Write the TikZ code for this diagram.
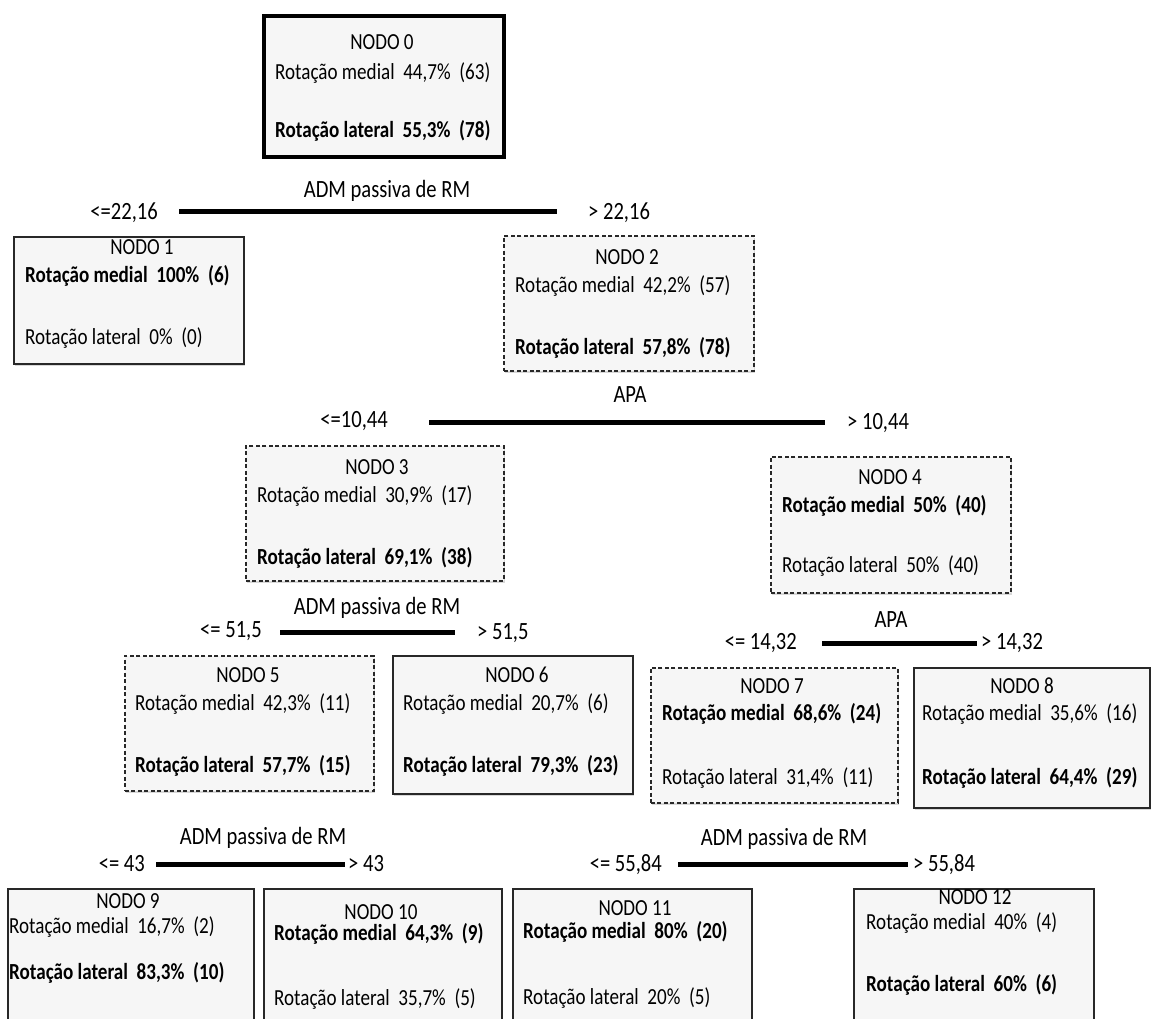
\documentclass[tikz,border=0pt]{standalone}
\usepackage{fontspec}
\setmainfont{Carlito}[FakeStretch=0.83]
\usetikzlibrary{shadows}
\definecolor{boxfill}{RGB}{246,246,246}
\definecolor{boxline}{RGB}{40,40,40}
\tikzset{
  box/.style={draw=boxline, line width=1.5pt, fill=boxfill, inner sep=0pt,
    anchor=north west, drop shadow={shadow xshift=1.5pt, shadow yshift=-2pt, opacity=0.3}},
  dbox/.style={box, dash pattern=on 4pt off 2.5pt},
  rootbox/.style={box, draw=black, line width=4pt},
  ttl/.style={anchor=center, inner sep=0pt, text height=0.7em, text depth=0.2em},
  txt/.style={anchor=west, inner sep=0pt, text height=0.7em, text depth=0.2em},
  lbl/.style={inner sep=0pt, font=\fontsize{24.8}{29}\selectfont, text height=0.7em, text depth=0.2em},
  lthr/.style={lbl, anchor=east},
  rthr/.style={lbl, anchor=west},
  var/.style={lbl, anchor=center},
  bar/.style={line width=5pt, black}
}
\begin{document}
\begin{tikzpicture}[x=1pt, y=-1pt, font=\fontsize{23}{27}\selectfont]
\useasboundingbox (0,0) rectangle (1156,1019);
\fill[white] (0,0) rectangle (1156,1019);
\clip (0,0) rectangle (1156,1019);

% ---------- NODO 0
\node[rootbox, minimum width=240pt, minimum height=141pt] (n0) at (262,14) {};
\node[ttl] (n0t) at (382,47) {NODO 0};
\node[txt] (n0a) at (275,77) {Rotação medial\ \ 44,7\%\ \ (63)};
\node[txt] (n0b) at (275,135) {\textbf{Rotação lateral\ \ 55,3\%\ \ (78)}};

% ---------- split 1
\node[var] (v1) at (387,195) {ADM passiva de RM};
\coordinate (b1l) at (179,212);
\coordinate (b1r) at (557,212);
\draw[bar] (b1l) -- (b1r);
\node[lthr] (t1l) at (158,217) {<=22,16};
\node[rthr] (t1r) at (588,217) {> 22,16};

% ---------- NODO 1
\node[box, minimum width=230pt, minimum height=127pt] (n1) at (13,236) {};
\node[ttl] (n1t) at (142,252) {NODO 1};
\node[txt] (n1a) at (25,280) {\textbf{Rotação medial\ \ 100\%\ \ (6)}};
\node[txt] (n1b) at (25,342) {Rotação lateral\ \ 0\%\ \ (0)};

% ---------- NODO 2
\node[dbox, minimum width=250pt, minimum height=135pt] (n2) at (503,235) {};
\node[ttl] (n2t) at (627,262) {NODO 2};
\node[txt] (n2a) at (515,290) {Rotação medial\ \ 42,2\%\ \ (57)};
\node[txt] (n2b) at (515,352) {\textbf{Rotação lateral\ \ 57,8\%\ \ (78)}};

% ---------- split 2
\node[var] (v2) at (630,400) {APA};
\coordinate (b2l) at (429,422);
\coordinate (b2r) at (825,422);
\draw[bar] (b2l) -- (b2r);
\node[lthr] (t2l) at (388,425) {<=10,44};
\node[rthr] (t2r) at (847,427) {> 10,44};

% ---------- NODO 3
\node[dbox, minimum width=258pt, minimum height=135pt] (n3) at (245,445) {};
\node[ttl] (n3t) at (377,472) {NODO 3};
\node[txt] (n3a) at (257,500) {Rotação medial\ \ 30,9\%\ \ (17)};
\node[txt] (n3b) at (257,562) {\textbf{Rotação lateral\ \ 69,1\%\ \ (38)}};

% ---------- NODO 4
\node[dbox, minimum width=240pt, minimum height=136pt] (n4) at (770,456) {};
\node[ttl] (n4t) at (890,482) {NODO 4};
\node[txt] (n4a) at (782,510) {\textbf{Rotação medial\ \ 50\%\ \ (40)}};
\node[txt] (n4b) at (782,570) {Rotação lateral\ \ 50\%\ \ (40)};

% ---------- split 3
\node[var] (v3) at (377,612) {ADM passiva de RM};
\coordinate (b3l) at (280,632);
\coordinate (b3r) at (455,632);
\draw[bar] (b3l) -- (b3r);
\node[lthr] (t3l) at (262,635) {<= 51,5};
\node[rthr] (t3r) at (477,637) {> 51,5};

% ---------- NODO 5
\node[dbox, minimum width=249pt, minimum height=135pt] (n5) at (124,655) {};
\node[ttl] (n5t) at (248,680) {NODO 5};
\node[txt] (n5a) at (135,708) {Rotação medial\ \ 42,3\%\ \ (11)};
\node[txt] (n5b) at (135,770) {\textbf{Rotação lateral\ \ 57,7\%\ \ (15)}};

% ---------- NODO 6
\node[box, minimum width=240pt, minimum height=138pt] (n6) at (392,655) {};
\node[ttl] (n6t) at (517,680) {NODO 6};
\node[txt] (n6a) at (403,708) {Rotação medial\ \ 20,7\%\ \ (6)};
\node[txt] (n6b) at (403,770) {\textbf{Rotação lateral\ \ 79,3\%\ \ (23)}};

% ---------- split 4
\node[var] (v4) at (891,625) {APA};
\coordinate (b4l) at (822,643);
\coordinate (b4r) at (977,643);
\draw[bar] (b4l) -- (b4r);
\node[lthr] (t4l) at (797,647) {<= 14,32};
\node[rthr] (t4r) at (981,647) {> 14,32};

% ---------- NODO 7
\node[dbox, minimum width=247pt, minimum height=135pt] (n7) at (650,667) {};
\node[ttl] (n7t) at (772,691) {NODO 7};
\node[txt] (n7a) at (662,718) {\textbf{Rotação medial\ \ 68,6\%\ \ (24)}};
\node[txt] (n7b) at (662,782) {Rotação lateral\ \ 31,4\%\ \ (11)};

% ---------- NODO 8
\node[box, minimum width=236pt, minimum height=140pt] (n8) at (913,667) {};
\node[ttl] (n8t) at (1022,691) {NODO 8};
\node[txt] (n8a) at (922,718) {Rotação medial\ \ 35,6\%\ \ (16)};
\node[txt] (n8b) at (922,782) {\textbf{Rotação lateral\ \ 64,4\%\ \ (29)}};

% ---------- split 5
\node[var] (v5) at (263,842) {ADM passiva de RM};
\coordinate (b5l) at (156,864);
\coordinate (b5r) at (345,864);
\draw[bar] (b5l) -- (b5r);
\node[lthr] (t5l) at (145,869) {<= 43};
\node[rthr] (t5r) at (348,869) {> 43};

% ---------- split 6
\node[var] (v6) at (784,843) {ADM passiva de RM};
\coordinate (b6l) at (678,864);
\coordinate (b6r) at (908,864);
\draw[bar] (b6l) -- (b6r);
\node[lthr] (t6l) at (662,869) {<= 55,84};
\node[rthr] (t6r) at (913,869) {> 55,84};

% ---------- NODO 9
\node[box, minimum width=246pt, minimum height=150pt] (n9) at (7,888) {};
\node[ttl] (n9t) at (128,906) {NODO 9};
\node[txt] (n9a) at (9,931) {Rotação medial\ \ 16,7\%\ \ (2)};
\node[txt] (n9b) at (9,977) {\textbf{Rotação lateral\ \ 83,3\%\ \ (10)}};

% ---------- NODO 10
\node[box, minimum width=238pt, minimum height=150pt] (n10) at (263,888) {};
\node[ttl] (n10t) at (381,917) {NODO 10};
\node[txt] (n10a) at (274,938) {\textbf{Rotação medial\ \ 64,3\%\ \ (9)}};
\node[txt] (n10b) at (274,1003) {Rotação lateral\ \ 35,7\%\ \ (5)};

% ---------- NODO 11
\node[box, minimum width=239pt, minimum height=150pt] (n11) at (512,888) {};
\node[ttl] (n11t) at (635,913) {NODO 11};
\node[txt] (n11a) at (523,936) {\textbf{Rotação medial\ \ 80\%\ \ (20)}};
\node[txt] (n11b) at (523,1002) {Rotação lateral\ \ 20\%\ \ (5)};

% ---------- NODO 12
\node[box, minimum width=240pt, minimum height=150pt] (n12) at (853,888) {};
\node[ttl] (n12t) at (975,902) {NODO 12};
\node[txt] (n12a) at (866,927) {Rotação medial\ \ 40\%\ \ (4)};
\node[txt] (n12b) at (866,989) {\textbf{Rotação lateral\ \ 60\%\ \ (6)}};
\end{tikzpicture}
\end{document}
